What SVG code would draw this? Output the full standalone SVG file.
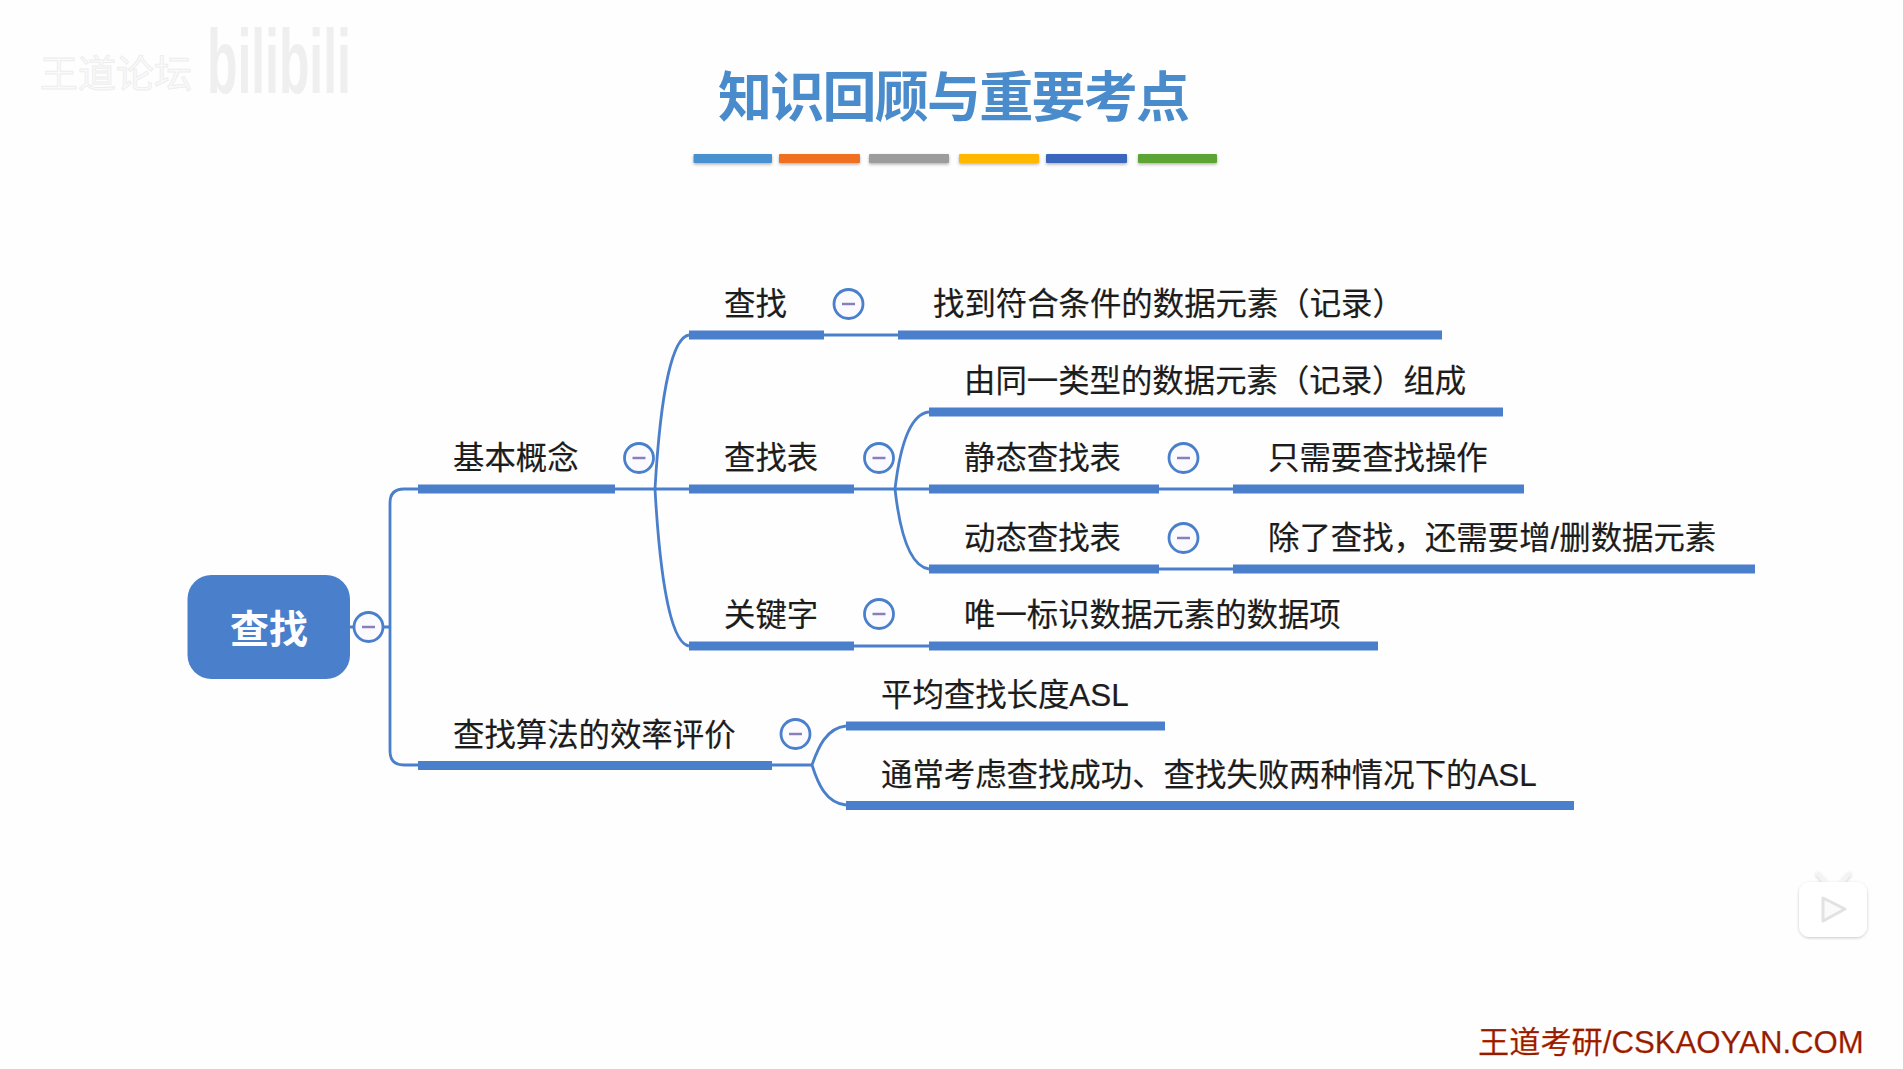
<svg xmlns="http://www.w3.org/2000/svg" width="1903" height="1069" viewBox="0 0 1903 1069">
<style>
text{font-family:"Liberation Sans","Noto Sans CJK SC",sans-serif}
.t{font-size:31.4px;fill:#1c1c1c;stroke:#1c1c1c;stroke-width:.2}
.bar{fill:#4a7fcb}
.link{fill:none;stroke:#4a7fcb;stroke-width:2.8}
.tg{stroke:#4a7fcb;stroke-width:2.8;fill:#fbfbff}
.tm{stroke:#8a80b8;stroke-width:2.5}
.stripe{filter:url(#sh)}
</style>
<defs>
<filter id="sh" x="-10%" y="-50%" width="120%" height="220%"><feDropShadow dx="0" dy="1.5" stdDeviation="1.5" flood-color="#000" flood-opacity=".3"/></filter>
<filter id="tv" x="-20%" y="-20%" width="140%" height="140%"><feDropShadow dx="0" dy="1" stdDeviation="1.5" flood-color="#000" flood-opacity=".22"/></filter>
<g id="toggle"><circle r="14.500" class="tg"/><line x1="-6.500" x2="6.500" class="tm"/></g>
</defs>
<rect width="1903" height="1069" fill="#fefefe"/>

<g id="watermark">
<text x="40" y="87" font-size="38" fill="#fafafa" stroke="#eeeeee" stroke-width="1">王道论坛</text>
<text transform="translate(207 93) scale(.83 1.5)" font-size="60" font-weight="700" fill="#efefef">bilibili</text>
</g>

<g id="title">
<text x="718" y="117" font-size="54" font-weight="700" fill="#4a8ccb" textLength="472" lengthAdjust="spacing">知识回顾与重要考点</text>
<rect class="stripe" x="693.500" y="154" width="78.500" height="9" rx="1" fill="#4a90d0"/>
<rect class="stripe" x="779" y="154" width="81" height="9" rx="1" fill="#f07020"/>
<rect class="stripe" x="869" y="154" width="80" height="9" rx="1" fill="#9c9c9c"/>
<rect class="stripe" x="959" y="154" width="80" height="9" rx="1" fill="#ffb700"/>
<rect class="stripe" x="1046" y="154" width="81" height="9" rx="1" fill="#3a66bd"/>
<rect class="stripe" x="1138" y="154" width="79" height="9" rx="1" fill="#5ba535"/>
</g>

<g id="connectors">
<path class="link" d="M350 627H390"/>
<path class="link" d="M418 489H404Q390 489 390 503V751Q390 765 404 765H418"/>
<path class="link" d="M615 489H689"/>
<path class="link" d="M689 335C668 338 659 420 655 489C659 560 668 643 689 646"/>
<path class="link" d="M824 335H898"/>
<path class="link" d="M854 489H929"/>
<path class="link" d="M929 412C908 414 899 455 895 489C899 525 908 566 929 569"/>
<path class="link" d="M1159 489H1233"/>
<path class="link" d="M1159 569H1233"/>
<path class="link" d="M854 646H929"/>
<path class="link" d="M772 765H812"/>
<path class="link" d="M846 726C826 728 818 748 812 765C818 784 826 803 846 805"/>
</g>

<g id="root">
<rect x="187.500" y="575" width="162.500" height="104" rx="24" fill="#4a7fcb"/>
<text x="269" y="643" text-anchor="middle" font-size="39" font-weight="700" fill="#fff">查找</text>
<use href="#toggle" x="368.500" y="627"/>
</g>

<g id="n-basic"><rect class="bar" x="418" y="484.500" width="197" height="9"/><text class="t" x="453" y="469">基本概念</text><use href="#toggle" x="639" y="458"/></g>
<g id="n-eval"><rect class="bar" x="418" y="761" width="354" height="9"/><text class="t" x="453" y="746">查找算法的效率评价</text><use href="#toggle" x="795.500" y="734"/></g>

<g id="n-find"><rect class="bar" x="689" y="330.500" width="135" height="9"/><text class="t" x="724" y="315">查找</text><use href="#toggle" x="848.500" y="304"/></g>
<g id="n-find-d"><rect class="bar" x="898" y="330.500" width="544" height="9"/><text class="t" x="933" y="315">找到符合条件的数据元素（记录）</text></g>
<g id="n-table"><rect class="bar" x="689" y="484.500" width="165" height="9"/><text class="t" x="724" y="469">查找表</text><use href="#toggle" x="879" y="458"/></g>
<g id="n-table-d"><rect class="bar" x="929" y="407.500" width="574" height="9"/><text class="t" x="964" y="392">由同一类型的数据元素（记录）组成</text></g>
<g id="n-static"><rect class="bar" x="929" y="484.500" width="230" height="9"/><text class="t" x="964" y="469">静态查找表</text><use href="#toggle" x="1183.500" y="458"/></g>
<g id="n-static-d"><rect class="bar" x="1233" y="484.500" width="291" height="9"/><text class="t" x="1268" y="469">只需要查找操作</text></g>
<g id="n-dynamic"><rect class="bar" x="929" y="564.500" width="230" height="9"/><text class="t" x="964" y="549">动态查找表</text><use href="#toggle" x="1183.500" y="538"/></g>
<g id="n-dynamic-d"><rect class="bar" x="1233" y="564.500" width="522" height="9"/><text class="t" x="1268" y="549">除了查找，还需要增/删数据元素</text></g>
<g id="n-key"><rect class="bar" x="689" y="641.500" width="165" height="9"/><text class="t" x="724" y="626">关键字</text><use href="#toggle" x="879" y="614"/></g>
<g id="n-key-d"><rect class="bar" x="929" y="641.500" width="449" height="9"/><text class="t" x="964" y="626">唯一标识数据元素的数据项</text></g>
<g id="n-asl"><rect class="bar" x="846" y="721.500" width="319" height="9"/><text class="t" x="881" y="706">平均查找长度ASL</text></g>
<g id="n-asl2"><rect class="bar" x="846" y="801" width="728" height="9"/><text class="t" x="881" y="786">通常考虑查找成功、查找失败两种情况下的ASL</text></g>

<g id="tv-icon" filter="url(#tv)">
<path d="M1818 874L1826 883M1849 874L1841 883" stroke="#f3f3f3" stroke-width="4" stroke-linecap="round"/>
<rect x="1799" y="882" width="68" height="55" rx="11" fill="#fff"/>
<path d="M1823 898L1845 909L1823 921Z" fill="#fafafa" stroke="#e2e2e2" stroke-width="3" stroke-linejoin="round"/>
</g>

<g id="footer"><text x="1478" y="1053" font-size="31.200" fill="#8f1c04" stroke="#e8500f" stroke-width=".25">王道考研/CSKAOYAN.COM</text></g>
</svg>
